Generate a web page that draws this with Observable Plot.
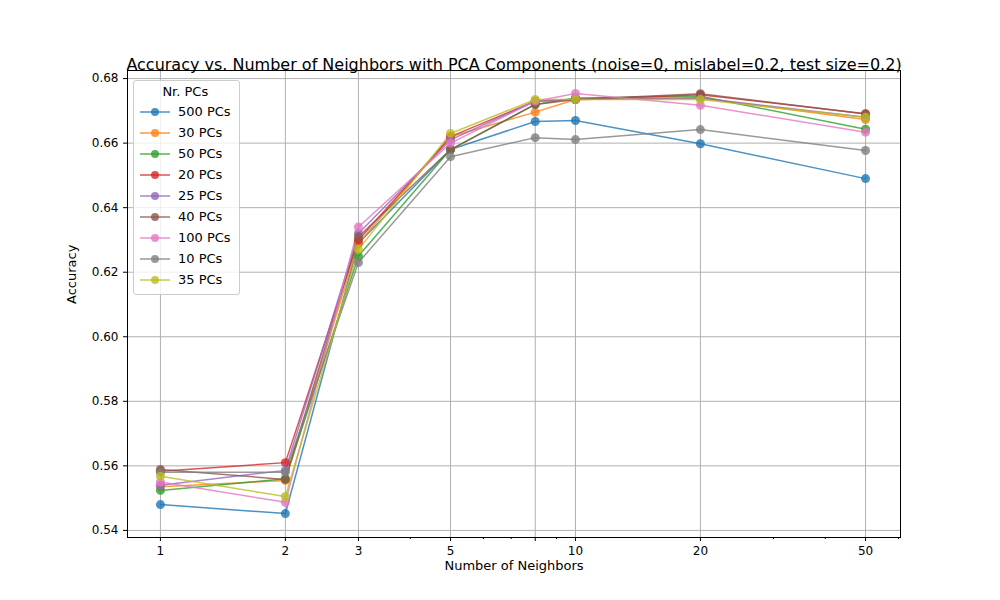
<!DOCTYPE html>
<html><head>
<script src="https://cdn.jsdelivr.net/npm/d3@7"></script>
<script src="https://cdn.jsdelivr.net/npm/@observablehq/plot@0.6"></script>
<style>
body { margin: 0; background: #fff; font-family: "DejaVu Sans", sans-serif; }
#wrap { position: relative; width: 1000px; height: 600px; }
#legend { position: absolute; left: 133px; top: 80px; border: 1px solid #ccc; border-radius: 3px; background: rgba(255,255,255,0.8); padding: 3px 8px 4px 6px; font-size: 13px; }
#legend .t { text-align: center; margin-bottom: 2px; }
#legend .r { display: flex; align-items: center; height: 21px; }
#legend svg { margin-right: 8px; }
</style>
</head><body>
<div id="wrap"><div id="legend"></div></div>
<script>
// Neighbors on x, accuracy per number of PCA components
const neighbors = [1, 2, 3, 5, 8, 10, 20, 50];
const seriesNames = ["500 PCs", "30 PCs", "50 PCs", "20 PCs", "25 PCs", "40 PCs", "100 PCs", "10 PCs", "35 PCs"];
const colors = ["#1f77b4", "#ff7f0e", "#2ca02c", "#d62728", "#9467bd", "#8c564b", "#e377c2", "#7f7f7f", "#bcbd22"];
const acc500 = [0.548, 0.5452, 0.629, 0.658, 0.6667, 0.667, 0.6598, 0.649];
const acc30 = [0.5535, 0.5555, 0.629, 0.662, 0.6696, 0.6735, 0.674, 0.6673];
const acc50 = [0.5524, 0.556, 0.625, 0.658, 0.672, 0.674, 0.6745, 0.6643];
const acc20 = [0.5583, 0.561, 0.630, 0.662, 0.673, 0.6735, 0.675, 0.6691];
const acc25 = [0.554, 0.5586, 0.632, 0.661, 0.673, 0.6735, 0.674, 0.668];
const acc40 = [0.5589, 0.5558, 0.631, 0.658, 0.672, 0.6735, 0.6753, 0.669];
const acc100 = [0.555, 0.5487, 0.634, 0.660, 0.673, 0.6754, 0.6717, 0.6634];
const acc10 = [0.558, 0.558, 0.623, 0.6558, 0.6617, 0.6611, 0.6642, 0.6577];
const acc35 = [0.5568, 0.5505, 0.627, 0.663, 0.6735, 0.6735, 0.6735, 0.668];
const allAcc = [acc500, acc30, acc50, acc20, acc25, acc40, acc100, acc10, acc35];

const rows = [];
seriesNames.forEach((s, i) => neighbors.forEach((n, j) => rows.push({ s, n, a: allAcc[i][j] })));
const minor = [4, 6, 7, 9, 30, 40, 60];
const yTicks = d3.range(0.54, 0.6801, 0.02);

const chart = Plot.plot({
  width: 1000, height: 600,
  marginLeft: 127, marginRight: 100, marginTop: 70, marginBottom: 63,
  style: { fontFamily: "DejaVu Sans", fontSize: "12px", color: "#000" },
  x: { type: "log", domain: [0.833, 60.7] },
  y: { domain: [0.5378, 0.6825] },
  color: { domain: seriesNames, range: colors },
  marks: [
    Plot.gridX(neighbors, { stroke: "#b0b0b0", strokeOpacity: 1 }),
    Plot.gridY(yTicks, { stroke: "#b0b0b0", strokeOpacity: 1 }),
    Plot.axisX(neighbors, { tickFormat: d => d, tickSize: 4, fontSize: 12, label: null }),
    Plot.axisX(minor, { tickFormat: () => "", tickSize: 2, label: null }),
    Plot.axisY(yTicks, { tickFormat: d3.format(".2f"), tickSize: 4, fontSize: 12, label: null }),
    Plot.frame({ stroke: "#000" }),
    Plot.line(rows, { x: "n", y: "a", z: "s", stroke: "s", strokeWidth: 1.5, strokeOpacity: 0.8 }),
    Plot.dot(rows, { x: "n", y: "a", fill: "s", r: 4.5, fillOpacity: 0.8 }),
    Plot.text(["Accuracy vs. Number of Neighbors with PCA Components (noise=0, mislabel=0.2, test size=0.2)"], { frameAnchor: "top", dy: -12, fontSize: 16, textAnchor: "middle" }),
    Plot.text(["Number of Neighbors"], { frameAnchor: "bottom", dy: 32, fontSize: 13 }),
    Plot.text(["Accuracy"], { frameAnchor: "left", dx: -56, rotate: -90, fontSize: 13 })
  ]
});
chart.style.position = "absolute";
chart.style.left = "0"; chart.style.top = "0";
const wrap = document.getElementById("wrap");
wrap.insertBefore(chart, wrap.firstChild);

const lg = document.getElementById("legend");
lg.innerHTML = '<div class="t">Nr. PCs</div>' + seriesNames.map((s, i) =>
  `<div class="r"><svg width="30" height="12"><line x1="0" x2="30" y1="6" y2="6" stroke="${colors[i]}" stroke-width="1.5" opacity="0.8"/><circle cx="15" cy="6" r="4" fill="${colors[i]}" opacity="0.8"/></svg>${s}</div>`).join("");
</script>
</body></html>
